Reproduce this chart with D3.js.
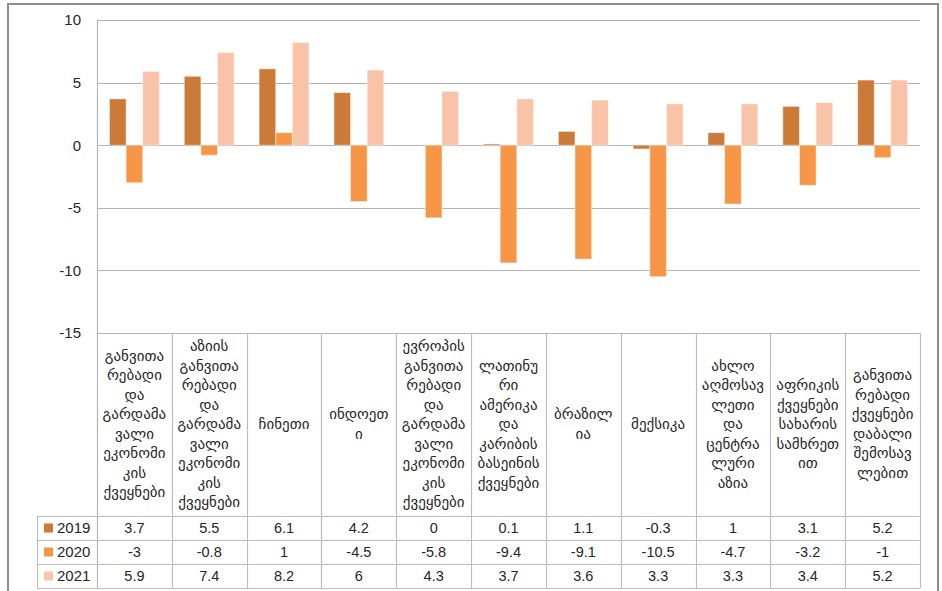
<!DOCTYPE html>
<html>
<head>
<meta charset="utf-8">
<script src="https://cdn.jsdelivr.net/npm/d3@7"></script>
<style>
  html, body { margin: 0; padding: 0; background: #fff; }
  svg { display: block; }
</style>
</head>
<body>
<svg id="chart" width="942" height="591"></svg>
<script>
// Region labels, wrapped line by line as they appear in the table header
const categories = [
  ["განვითა", "რებადი", "და", "გარდამა", "ვალი", "ეკონომი", "კის", "ქვეყნები"],
  ["აზიის", "განვითა", "რებადი", "და", "გარდამა", "ვალი", "ეკონომი", "კის", "ქვეყნები"],
  ["ჩინეთი"],
  ["ინდოეთ", "ი"],
  ["ევროპის", "განვითა", "რებადი", "და", "გარდამა", "ვალი", "ეკონომი", "კის", "ქვეყნები"],
  ["ლათინუ", "რი", "ამერიკა", "და", "კარიბის", "ბასეინის", "ქვეყნები"],
  ["ბრაზილ", "ია"],
  ["მექსიკა"],
  ["ახლო", "აღმოსავ", "ლეთი", "და", "ცენტრა", "ლური", "აზია"],
  ["აფრიკის", "ქვეყნები", "სახარის", "სამხრეთ", "ით"],
  ["განვითა", "რებადი", "ქვეყნები", "დაბალი", "შემოსავ", "ლებით"]
];

const years = ["2019", "2020", "2021"];
const values2019 = [3.7, 5.5, 6.1, 4.2, 0, 0.1, 1.1, -0.3, 1, 3.1, 5.2];
const values2020 = [-3, -0.8, 1, -4.5, -5.8, -9.4, -9.1, -10.5, -4.7, -3.2, -1];
const values2021 = [5.9, 7.4, 8.2, 6, 4.3, 3.7, 3.6, 3.3, 3.3, 3.4, 5.2];
const yTicks = [10, 5, 0, -5, -10, -15];
const colors = ["#CC7A38", "#F79646", "#F9C3A8"];

const series = [values2019, values2020, values2021];

const svg = d3.select("#chart");

// outer chart frame
svg.append("rect")
  .attr("x", 8).attr("y", 4).attr("width", 930).attr("height", 620)
  .attr("fill", "#fff").attr("stroke", "#8c8c8c").attr("stroke-width", 2);

const plotLeft = 97, plotRight = 920;
const y = d3.scaleLinear().domain([-15, 10]).range([333, 20]);
const x = d3.scaleBand().domain(d3.range(categories.length)).range([plotLeft, plotRight]);
const xs = d3.scaleBand().domain(years).range([0, x.bandwidth()]).paddingInner(0).paddingOuter(0.75);

const gridColor = "#b5b5b5";
const tableColor = "#bcbcbc";
const textColor = "#262626";
const numFont = "'Liberation Sans', Arial, sans-serif";
const geoFont = "'DejaVu Sans', sans-serif";
const fmt = v => String(v);

// horizontal gridlines
svg.append("g").selectAll("line")
  .data(yTicks)
  .join("line")
  .attr("x1", plotLeft).attr("x2", plotRight)
  .attr("y1", d => Math.round(y(d)) + 0.5).attr("y2", d => Math.round(y(d)) + 0.5)
  .attr("stroke", gridColor).attr("stroke-width", 1.2);

// value axis
const yAxis = d3.axisLeft(y).tickValues(yTicks).tickFormat(fmt).tickSize(0).tickPadding(16);
const gy = svg.append("g").attr("transform", `translate(${plotLeft},0)`).call(yAxis);
gy.select(".domain").remove();
gy.selectAll("text")
  .attr("font-family", numFont).attr("font-size", 15).attr("fill", textColor);

// bars
const groups = svg.append("g").selectAll("g")
  .data(years)
  .join("g")
  .attr("fill", (d, i) => colors[i]);

groups.selectAll("rect")
  .data((yr, si) => series[si].map((v, ci) => ({ v, ci, yr })))
  .join("rect")
  .attr("x", d => x(d.ci) + xs(d.yr))
  .attr("width", xs.bandwidth())
  .attr("y", d => y(Math.max(0, d.v)))
  .attr("height", d => Math.abs(y(d.v) - y(0)))
  .attr("stroke", "rgba(255,255,255,0.45)").attr("stroke-width", 1);

// vertical axis line running through the chart and the table
svg.append("line")
  .attr("x1", plotLeft + 0.5).attr("x2", plotLeft + 0.5)
  .attr("y1", y(10)).attr("y2", 588)
  .attr("stroke", gridColor).attr("stroke-width", 1.2);

// data table
const headTop = y(-15), headBottom = 516, rowH = 24;
const legendLeft = 37;
const tableBottom = headBottom + rowH * years.length;

const tbl = svg.append("g");
// column separators in header and rows
x.domain().forEach(ci => {
  const xr = x(ci) + x.bandwidth();
  tbl.append("line")
    .attr("x1", Math.round(xr) + 0.5).attr("x2", Math.round(xr) + 0.5)
    .attr("y1", headTop).attr("y2", tableBottom)
    .attr("stroke", tableColor).attr("stroke-width", 1.2);
});
// row lines
[headBottom, headBottom + rowH, headBottom + 2 * rowH, tableBottom].forEach(yy => {
  tbl.append("line")
    .attr("x1", legendLeft).attr("x2", plotRight)
    .attr("y1", yy + 0.5).attr("y2", yy + 0.5)
    .attr("stroke", tableColor).attr("stroke-width", 1.2);
});
// legend column left edge
tbl.append("line")
  .attr("x1", legendLeft + 0.5).attr("x2", legendLeft + 0.5)
  .attr("y1", headBottom).attr("y2", tableBottom)
  .attr("stroke", tableColor).attr("stroke-width", 1.2);

// header labels
const lineH = 19.5;
categories.forEach((lines, ci) => {
  const cx = x(ci) + x.bandwidth() / 2;
  const cy = (headTop + headBottom) / 2;
  const t = tbl.append("text")
    .attr("text-anchor", "middle")
    .attr("font-family", geoFont).attr("font-size", 15)
    .attr("fill", textColor);
  const y0 = cy - (lines.length - 1) * lineH / 2;
  lines.forEach((ln, li) => {
    t.append("tspan").attr("x", cx).attr("y", y0 + li * lineH).attr("dy", "0.3em").text(ln);
  });
});

// legend keys and values
years.forEach((yr, si) => {
  const cy = headBottom + rowH * si + rowH / 2;
  tbl.append("rect")
    .attr("x", 44).attr("y", cy - 4.5).attr("width", 9).attr("height", 9)
    .attr("fill", colors[si]);
  tbl.append("text")
    .attr("x", 57).attr("y", cy).attr("dy", "0.35em")
    .attr("font-family", numFont).attr("font-size", 15).attr("fill", textColor)
    .text(yr);
  series[si].forEach((v, ci) => {
    tbl.append("text")
      .attr("x", x(ci) + x.bandwidth() / 2).attr("y", cy).attr("dy", "0.35em")
      .attr("text-anchor", "middle")
      .attr("font-family", numFont).attr("font-size", 14.5).attr("fill", textColor)
      .text(fmt(v));
  });
});
</script>
</body>
</html>
